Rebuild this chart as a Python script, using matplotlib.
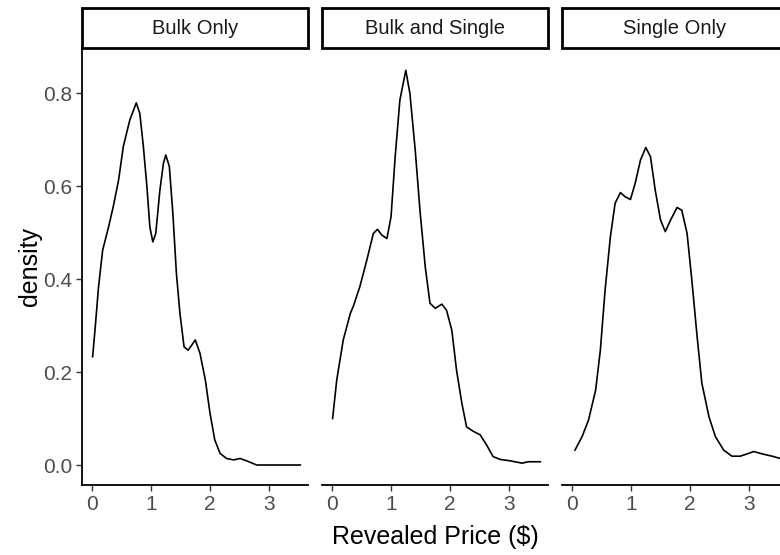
import numpy as np
import matplotlib.pyplot as plt
from matplotlib.patches import Rectangle

plt.rcParams['font.family'] = ['Liberation Sans', 'DejaVu Sans']

# facet labels
panels = ['Bulk Only', 'Bulk and Single', 'Single Only']

# density curves (price in $, density)
bulk_x = [0.01, 0.05, 0.11, 0.18, 0.28, 0.36, 0.45, 0.53, 0.64, 0.75, 0.81, 0.87,
          0.93, 0.98, 1.03, 1.08, 1.15, 1.21, 1.25, 1.31, 1.37, 1.43, 1.49, 1.56,
          1.63, 1.75, 1.83, 1.92, 2.00, 2.08, 2.17, 2.28, 2.40, 2.51, 2.62, 2.79, 3.53]
bulk_y = [0.233, 0.29, 0.383, 0.462, 0.512, 0.556, 0.613, 0.685, 0.742, 0.779, 0.756, 0.685,
          0.599, 0.512, 0.48, 0.498, 0.591, 0.649, 0.667, 0.642, 0.541, 0.412, 0.326, 0.254,
          0.247, 0.269, 0.240, 0.183, 0.111, 0.054, 0.025, 0.014, 0.011, 0.014, 0.009, 0.0, 0.0]

both_x = [0.01, 0.08, 0.19, 0.31, 0.36, 0.47, 0.59, 0.70, 0.77, 0.84, 0.93, 1.00,
          1.07, 1.15, 1.25, 1.32, 1.41, 1.49, 1.58, 1.66, 1.75, 1.86, 1.94, 2.03,
          2.11, 2.20, 2.28, 2.40, 2.51, 2.62, 2.73, 2.85, 3.02, 3.22, 3.33, 3.53]
both_y = [0.100, 0.183, 0.269, 0.326, 0.341, 0.383, 0.441, 0.498, 0.507, 0.495, 0.487, 0.534,
          0.663, 0.785, 0.849, 0.799, 0.677, 0.548, 0.426, 0.348, 0.337, 0.346, 0.333, 0.290,
          0.204, 0.133, 0.082, 0.072, 0.065, 0.043, 0.018, 0.012, 0.009, 0.004, 0.007, 0.007]

single_x = [0.05, 0.17, 0.28, 0.40, 0.48, 0.56, 0.65, 0.73, 0.82, 0.90, 0.99, 1.07,
            1.16, 1.25, 1.33, 1.41, 1.50, 1.58, 1.67, 1.78, 1.86, 1.95, 2.03, 2.12,
            2.20, 2.32, 2.43, 2.57, 2.71, 2.85, 2.97, 3.08, 3.22, 3.39, 3.53]
single_y = [0.032, 0.061, 0.097, 0.161, 0.247, 0.376, 0.491, 0.563, 0.586, 0.577, 0.571, 0.606,
            0.656, 0.683, 0.663, 0.591, 0.527, 0.502, 0.527, 0.554, 0.548, 0.498, 0.398, 0.276,
            0.176, 0.104, 0.061, 0.032, 0.019, 0.019, 0.024, 0.029, 0.024, 0.019, 0.014]

curves = [(bulk_x, bulk_y), (both_x, both_y), (single_x, single_y)]
xticks = [0, 1, 2, 3]
yticks = [0.0, 0.2, 0.4, 0.6, 0.8]

W, H = 780, 555
fig = plt.figure(figsize=(W / 100, H / 100), dpi=100)

lefts = [82, 322, 562]
pw = 226
top, bottom = 48, 485
strip_top = 8

for i, (name, (cx, cy)) in enumerate(zip(panels, curves)):
    l = lefts[i]
    ax = fig.add_axes([l / W, 1 - bottom / H, pw / W, (bottom - top) / H])
    ax.plot(cx, cy, color='black', lw=1.2)
    ax.set_xlim(-0.17, 3.66)
    ax.set_ylim(-0.043, 0.897)
    ax.set_xticks(xticks)
    ax.set_xticklabels([str(t) for t in xticks])
    for s in ['top', 'right']:
        ax.spines[s].set_visible(False)
    ax.spines['bottom'].set_linewidth(1.3)
    ax.tick_params(axis='x', length=4, width=1.0, color='#333333',
                   labelsize=15, labelcolor='#4D4D4D', pad=3)
    if i == 0:
        ax.spines['left'].set_linewidth(1.3)
        ax.set_yticks(yticks)
        ax.set_yticklabels([f'{t:.1f}' for t in yticks])
        ax.tick_params(axis='y', length=4, width=1.0, color='#333333',
                       labelsize=15, labelcolor='#4D4D4D', pad=3)
    else:
        ax.spines['left'].set_visible(False)
        ax.set_yticks([])

    # facet strip
    sax = fig.add_axes([l / W, 1 - top / H, pw / W, (top - strip_top) / H])
    sax.set_xlim(0, 1)
    sax.set_ylim(0, 1)
    sax.axis('off')
    sax.add_patch(Rectangle((0, 0), 1, 1, facecolor='white', edgecolor='black',
                            lw=2.0, transform=sax.transAxes, clip_on=False))
    sax.text(0.5, 0.5, name, ha='center', va='center', fontsize=14.5, color='#1A1A1A')

fig.text(435 / W, 1 - 537 / H, 'Revealed Price ($)', ha='center', va='center',
         fontsize=18, color='black')
fig.text(30 / W, 1 - 267 / H, 'density', ha='center', va='center', rotation=90,
         fontsize=18, color='black')

fig.savefig('out.png', dpi=100)
